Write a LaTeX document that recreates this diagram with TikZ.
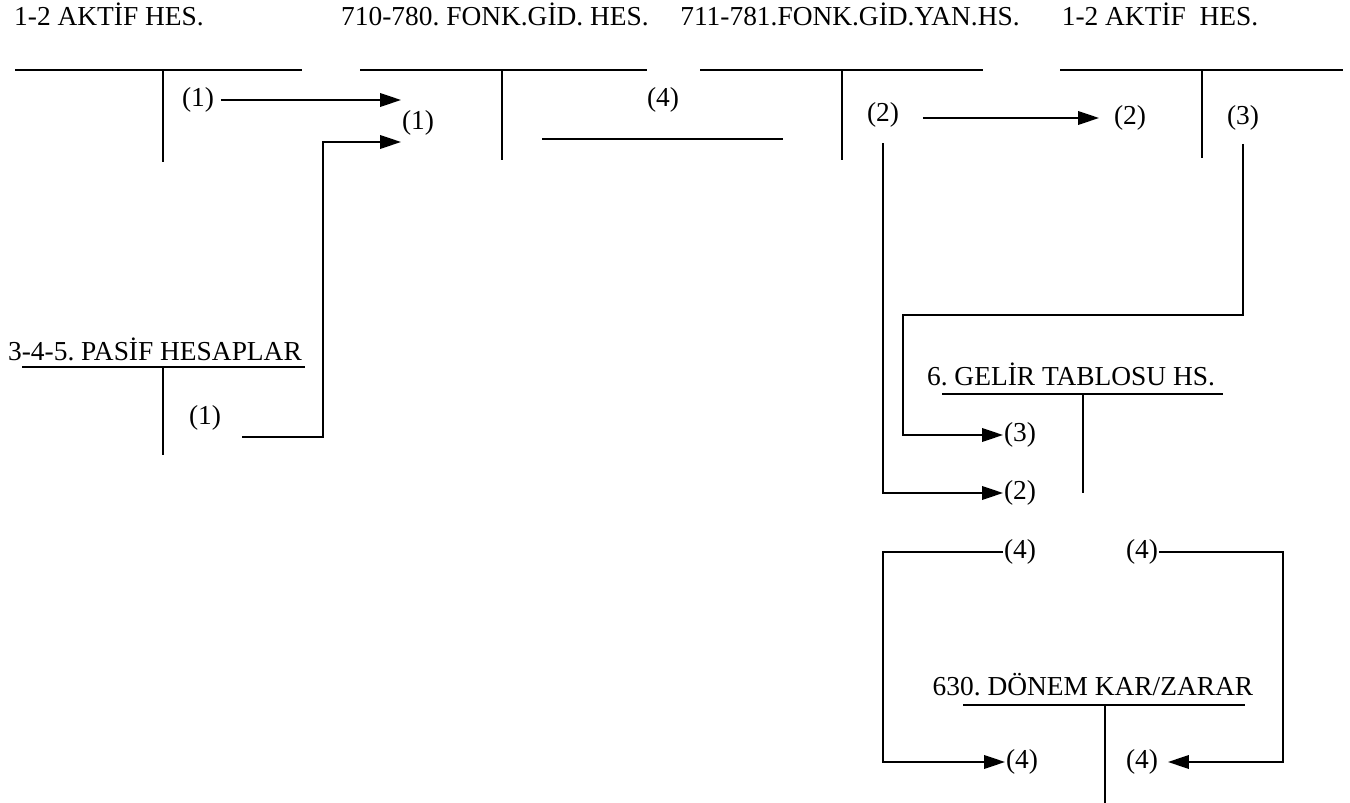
\documentclass[tikz,border=0pt]{standalone}
\usepackage{fontspec}
\setmainfont{Liberation Serif}
\usetikzlibrary{arrows.meta}
\frenchspacing

\begin{document}
\begin{tikzpicture}[x=0.02cm,y=-0.02cm,line width=1.1pt,
        hes/.style={font=\fontsize{15.6}{18}\selectfont,inner sep=0pt,anchor=base},
        num/.style={font=\fontsize{15.6}{18}\selectfont,inner sep=0pt},
        tline/.style={line width=1.4pt},
        arr/.style={-{Triangle[length=0.42cm,width=0.27cm]}}]
        \useasboundingbox (0,0) rectangle (1350,803);

        \node[hes] (aktif1) at (109,26) {1-2 AKTİF HES.}; \node[hes] (fonk) at (495,26) {710-780. FONK.GİD. HES.};
        \node[hes] (fonkyan) at (850,26) {711-781.FONK.GİD.YAN.HS.}; \node[hes] (aktif2) at (1160,26) {1-2 AKTİF\ \ HES.};
        \node[hes] (pasif) at (155,361) {3-4-5. PASİF HESAPLAR}; \node[hes] (gelir) at (1071,386) {6. GELİR TABLOSU HS.};
        \node[hes] (donem) at (1093,696) {630. DÖNEM KAR/ZARAR};

        \draw[tline] (15,70) -- (302,70); \draw (163,70) -- (163,162);
        \draw[tline] (360,70) -- (647,70); \draw (502,70) -- (502,160);
        \draw[tline] (700,70) -- (983,70); \draw (842,70) -- (842,160);
        \draw[tline] (1060,70) -- (1343,70); \draw (1202,70) -- (1202,158);
        \draw[tline] (22,367) -- (305,367); \draw (163,367) -- (163,455);
        \draw[tline] (942,394) -- (1223,394); \draw (1083,394) -- (1083,493);
        \draw[tline] (963,705) -- (1245,705); \draw (1105,705) -- (1105,803);

        \node[num] (a1) at (198,100) {(1)}; \node[num] (f1) at (418,123) {(1)}; \node[num] (f4) at (663,100) {(4)};
        \node[num] (y2) at (883,115) {(2)}; \node[num] (a2) at (1130,118) {(2)}; \node[num] (a3) at (1243,118) {(3)};
        \node[num] (p1) at (205,418) {(1)};
        \node[num] (g3) at (1020,435) {(3)}; \node[num] (g2) at (1020,493) {(2)};
        \node[num] (g4) at (1020,552) {(4)}; \node[num] (g4r) at (1142,552) {(4)};
        \node[num] (d4) at (1022,762) {(4)}; \node[num] (d4r) at (1142,762) {(4)};

        \coordinate (p1s) at (242,437); \coordinate (p1k) at (323,142);
        \coordinate (f4a) at (542,139); \coordinate (f4b) at (783,139);
        \coordinate (a3k) at (903,315); \coordinate (g4k) at (883,552); \coordinate (g4rk) at (1283,552);

        \draw[arr,shorten <=0.12cm] (a1.east) -- (a1.east -| f1.west);
        \draw[arr] (p1s) -| (p1k) -- (p1k -| f1.west);
        \draw (f4a) -- (f4b);
        \draw[arr,shorten <=0.46cm,shorten >=0.28cm] (a2.west -| y2.east) -- (a2.west);
        \draw[arr,shorten <=0.3cm] (y2.south) |- (g2.west);
        \draw[arr,shorten <=0.25cm] (a3.south) |- (a3k) |- (g3.west);
        \draw[arr] (g4.west) -- (g4k) |- (d4.west);
        \draw[arr,shorten >=0.18cm] (g4r.east) -- (g4rk) |- (d4r.east);
\end{tikzpicture}
\end{document}
